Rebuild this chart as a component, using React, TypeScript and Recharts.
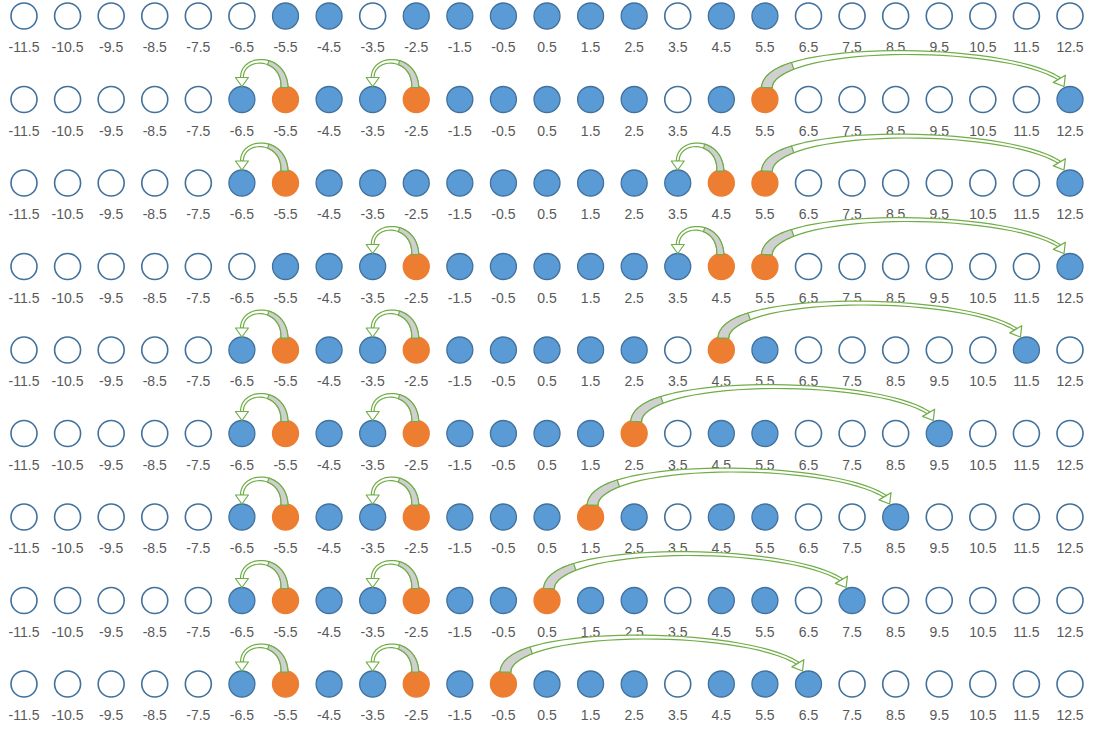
import { ScatterChart, Scatter, XAxis, YAxis } from 'recharts';

// positions along the line, one circle per position
const POSITIONS = [
  -11.5, -10.5, -9.5, -8.5, -7.5, -6.5, -5.5, -4.5, -3.5, -2.5, -1.5, -0.5,
  0.5, 1.5, 2.5, 3.5, 4.5, 5.5, 6.5, 7.5, 8.5, 9.5, 10.5, 11.5, 12.5,
];

const TICK_LABELS = [
  '-11.5', '-10.5', '-9.5', '-8.5', '-7.5', '-6.5', '-5.5', '-4.5', '-3.5', '-2.5', '-1.5', '-0.5',
  '0.5', '1.5', '2.5', '3.5', '4.5', '5.5', '6.5', '7.5', '8.5', '9.5', '10.5', '11.5', '12.5',
];

// W = empty, B = blue, O = orange (one letter per position)
const ROW_1 = 'WWWWWWBBWBBBBBBWBBWWWWWWW';
const ROW_2 = 'WWWWWBOBBOBBBBBWBOWWWWWWB';
const ROW_3 = 'WWWWWBOBBBBBBBBBOOWWWWWWB';
const ROW_4 = 'WWWWWWBBBOBBBBBBOOWWWWWWB';
const ROW_5 = 'WWWWWBOBBOBBBBBWOBWWWWWBW';
const ROW_6 = 'WWWWWBOBBOBBBBOWBBWWWBWWW';
const ROW_7 = 'WWWWWBOBBOBBBOBWBBWWBWWWW';
const ROW_8 = 'WWWWWBOBBOBBOBBWBBWBWWWWW';
const ROW_9 = 'WWWWWBOBBOBOBBBWBBBWWWWWW';

const ROWS = [ROW_1, ROW_2, ROW_3, ROW_4, ROW_5, ROW_6, ROW_7, ROW_8, ROW_9];

// [row index, from position, to position]
const MOVES: [number, number, number][] = [
  [1, -5.5, -6.5], [1, -2.5, -3.5], [1, 5.5, 12.5],
  [2, -5.5, -6.5], [2, 4.5, 3.5], [2, 5.5, 12.5],
  [3, -2.5, -3.5], [3, 4.5, 3.5], [3, 5.5, 12.5],
  [4, -5.5, -6.5], [4, -2.5, -3.5], [4, 4.5, 11.5],
  [5, -5.5, -6.5], [5, -2.5, -3.5], [5, 2.5, 9.5],
  [6, -5.5, -6.5], [6, -2.5, -3.5], [6, 1.5, 8.5],
  [7, -5.5, -6.5], [7, -2.5, -3.5], [7, 0.5, 7.5],
  [8, -5.5, -6.5], [8, -2.5, -3.5], [8, -0.5, 6.5],
];

const FILLS: Record<string, string> = { W: '#ffffff', B: '#5b9bd5', O: '#ed7d31' };
const STROKES: Record<string, string> = { W: '#41719c', B: '#41719c', O: '#ed7d31' };
const GREEN = '#70ad47';
const R = 13;

const circleData = ROWS.flatMap((row, r) =>
  row.split('').map((s, i) => ({ x: POSITIONS[i], y: r, state: s, label: TICK_LABELS[i] }))
);

type Pt = { x: number; y: number };

function bez(p0: Pt, p1: Pt, p2: Pt, p3: Pt, t: number): Pt {
  const u = 1 - t;
  return {
    x: u * u * u * p0.x + 3 * u * u * t * p1.x + 3 * u * t * t * p2.x + t * t * t * p3.x,
    y: u * u * u * p0.y + 3 * u * u * t * p1.y + 3 * u * t * t * p2.y + t * t * t * p3.y,
  };
}

function bezD(p0: Pt, p1: Pt, p2: Pt, p3: Pt, t: number): Pt {
  const u = 1 - t;
  return {
    x: 3 * u * u * (p1.x - p0.x) + 6 * u * t * (p2.x - p1.x) + 3 * t * t * (p3.x - p2.x),
    y: 3 * u * u * (p1.y - p0.y) + 6 * u * t * (p2.y - p1.y) + 3 * t * t * (p3.y - p2.y),
  };
}

function ribbon(c: Pt[], w0: number, w1: number, pw: number, t0: number, t1: number) {
  const left: string[] = [];
  const right: string[] = [];
  const n = 32;
  for (let i = 0; i <= n; i++) {
    const t = t0 + ((t1 - t0) * i) / n;
    const p = bez(c[0], c[1], c[2], c[3], t);
    const d = bezD(c[0], c[1], c[2], c[3], t);
    const len = Math.hypot(d.x, d.y) || 1;
    const nx = -d.y / len;
    const ny = d.x / len;
    const w = (w1 + (w0 - w1) * Math.pow(1 - t, pw)) / 2;
    left.push(`${(p.x + nx * w).toFixed(2)},${(p.y + ny * w).toFixed(2)}`);
    right.push(`${(p.x - nx * w).toFixed(2)},${(p.y - ny * w).toFixed(2)}`);
  }
  return 'M' + left.join('L') + 'L' + right.reverse().join('L') + 'Z';
}

function MoveArrow(props: any) {
  const pts = props.points;
  if (!pts || pts.length < 2) return null;
  const sx = pts[0].x;
  const tx = pts[1].x;
  const top = pts[0].y - R;
  const short = Math.abs(tx - sx) < 80;

  let ctrl: Pt[];
  let tip: Pt;
  let u: Pt;
  let w0: number, w1: number, pw: number, grayEnd: number, headLen: number, headHalf: number;

  if (short) {
    tip = { x: tx, y: top };
    headLen = 9;
    headHalf = 6.5;
    u = { x: 0, y: 1 };
    const neck = { x: tip.x, y: tip.y - headLen };
    ctrl = [
      { x: sx - 1, y: top + 1 },
      { x: sx - 1, y: top - 32 },
      { x: neck.x, y: top - 32 },
      neck,
    ];
    w0 = 7; w1 = 2.8; pw = 2; grayEnd = 0.42;
  } else {
    const D = tx - sx;
    tip = { x: tx - 6, y: top };
    headLen = 9;
    headHalf = 7;
    const l = Math.hypot(0.6, 1);
    u = { x: 0.6 / l, y: 1 / l };
    const neck = { x: tip.x - u.x * headLen, y: tip.y - u.y * headLen };
    ctrl = [
      { x: sx + 2, y: top + 1 },
      { x: sx + 4, y: top - 44 },
      { x: tx - 0.22 * D, y: top - 44 },
      neck,
    ];
    w0 = 11; w1 = 3; pw = 3; grayEnd = 0.2;
  }

  const neck = ctrl[3];
  const nx = -u.y;
  const ny = u.x;
  const head = `M${neck.x + nx * headHalf},${neck.y + ny * headHalf}L${tip.x},${tip.y}L${neck.x - nx * headHalf},${neck.y - ny * headHalf}Z`;

  return (
    <g>
      <path d={ribbon(ctrl, w0, w1, pw, 0, 1)} fill="#ffffff" stroke={GREEN} strokeWidth={1.2} strokeLinejoin="round" />
      <path d={ribbon(ctrl, w0, w1, pw, 0, grayEnd)} fill="#d0d0d0" stroke={GREEN} strokeWidth={1.2} strokeLinejoin="round" />
      <path d={head} fill="#ffffff" stroke={GREEN} strokeWidth={1.2} strokeLinejoin="round" />
    </g>
  );
}

function Marble(props: any) {
  const { cx, cy, payload } = props;
  const s = payload.state;
  return (
    <g>
      <circle cx={cx} cy={cy} r={R} fill={FILLS[s]} stroke={STROKES[s]} strokeWidth={s === 'W' ? 1.6 : 1.3} />
      <text
        x={cx}
        y={cy + 36}
        textAnchor="middle"
        fill="#595959"
        fontSize={14}
        fontFamily="'Liberation Sans', Arial, sans-serif"
      >
        {payload.label}
      </text>
    </g>
  );
}

const NoDot = () => <g />;

export default function App() {
  return (
    <div style={{ position: 'absolute', left: 0, top: 0, background: '#ffffff' }}>
      <ScatterChart width={1097} height={732} margin={{ top: 16, right: 27, bottom: 48, left: 24 }}>
        <XAxis type="number" dataKey="x" domain={[-11.5, 12.5]} hide />
        <YAxis type="number" dataKey="y" domain={[0, 8]} reversed hide />
        <Scatter data={circleData} shape={<Marble />} isAnimationActive={false} />
        {MOVES.map(([row, from, to], i) => (
          <Scatter
            key={`move-${i}`}
            data={[{ x: from, y: row }, { x: to, y: row }]}
            shape={NoDot}
            line={(p: any) => <MoveArrow {...p} />}
            lineType="joint"
            isAnimationActive={false}
          />
        ))}
      </ScatterChart>
    </div>
  );
}
